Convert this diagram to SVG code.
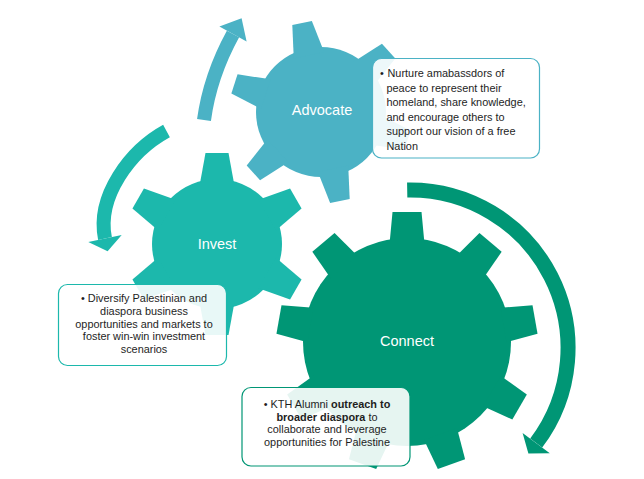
<svg xmlns="http://www.w3.org/2000/svg" width="644" height="479" viewBox="0 0 644 479">
<style>
.lbl{font-family:"Liberation Sans",Arial,sans-serif;font-size:14.5px;fill:#fff;text-anchor:middle}
.bt{font-family:"Liberation Sans",Arial,sans-serif;font-size:10.9px;fill:#1e1e1e}
.c{text-anchor:middle}
.b{font-weight:bold}
.box{fill:#fff;fill-opacity:0.9;stroke-width:1.2}
.band{fill:none;stroke-linecap:butt}
</style>
<defs>
<polygon id="tC" points="-17.5,-98 17.5,-98 14.5,-130 -14.5,-130"/>
<polygon id="tI" points="-17.5,-58 17.5,-58 11.5,-91 -11.5,-91"/>
<polygon id="tA" points="-15.5,-58 15.5,-58 10,-91 -10,-91"/>
</defs>
<rect width="644" height="479" fill="#fff"/>

<g id="gear-advocate" fill="#4BB2C5">
<g transform="translate(321,112)">
<circle r="65"/>
<use href="#tA" transform="rotate(-12)"/>
<use href="#tA" transform="rotate(48)"/>
<use href="#tA" transform="rotate(108)"/>
<use href="#tA" transform="rotate(168)"/>
<use href="#tA" transform="rotate(228)"/>
<use href="#tA" transform="rotate(288)"/>
</g>
<text class="lbl" x="322" y="115">Advocate</text>
</g>

<g id="gear-invest" fill="#1CB8AC">
<g transform="translate(217,244)">
<circle r="65"/>
<use href="#tI"/>
<use href="#tI" transform="rotate(60)"/>
<use href="#tI" transform="rotate(120)"/>
<use href="#tI" transform="rotate(180)"/>
<use href="#tI" transform="rotate(240)"/>
<use href="#tI" transform="rotate(300)"/>
</g>
<text class="lbl" x="217" y="249">Invest</text>
</g>

<g id="gear-connect" fill="#009675">
<g transform="translate(407,342)">
<circle r="104"/>
<use href="#tC"/>
<use href="#tC" transform="rotate(40)"/>
<use href="#tC" transform="rotate(80)"/>
<use href="#tC" transform="rotate(120)"/>
<use href="#tC" transform="rotate(160)"/>
<use href="#tC" transform="rotate(200)"/>
<use href="#tC" transform="rotate(240)"/>
<use href="#tC" transform="rotate(280)"/>
<use href="#tC" transform="rotate(320)"/>
</g>
<text class="lbl" x="407" y="346">Connect</text>
</g>

<g id="connectors">
<path class="band" d="M204,120 Q210,76 233,34" stroke="#4BB2C5" stroke-width="14"/>
<polygon points="246.6,41.4 219.4,26.6 241.6,18.2" fill="#4BB2C5"/>
<path class="band" d="M166.5,131 C130,151 96.4,196.4 105,238.5" stroke="#1CB8AC" stroke-width="14"/>
<polygon points="121.7,235.1 88.3,241.9 107.6,251.2" fill="#1CB8AC"/>
<path class="band" d="M407.2,190 A158,158 0 0 1 536.2,443.1" stroke="#009675" stroke-width="15"/>
<polygon points="549.8,453.3 522.6,433 528.4,453.5" fill="#009675"/>
</g>

<g id="box-advocate">
<rect class="box" x="372.5" y="58.5" width="167" height="99.5" rx="9" stroke="#4BB2C5"/>
<text class="bt" x="380" y="77">•</text>
<text class="bt" x="387.5" y="77">Nurture amabassdors of</text>
<text class="bt" x="386.5" y="91.6">peace to represent their</text>
<text class="bt" x="386.5" y="106.2">homeland, share knowledge,</text>
<text class="bt" x="386.5" y="120.8">and encourage others to</text>
<text class="bt" x="386.5" y="135.4">support our vision of a free</text>
<text class="bt" x="386.5" y="150">Nation</text>
</g>

<g id="box-invest">
<rect class="box" x="58.5" y="284.5" width="168" height="81" rx="9" stroke="#1CB8AC"/>
<text class="bt c" x="144" y="302">• Diversify Palestinian and</text>
<text class="bt c" x="144" y="314.8">diaspora business</text>
<text class="bt c" x="144" y="327.6">opportunities and markets to</text>
<text class="bt c" x="144" y="340.4">foster win-win investment</text>
<text class="bt c" x="144" y="353.2">scenarios</text>
</g>

<g id="box-connect">
<rect class="box" x="242" y="387.5" width="168" height="78.5" rx="9" stroke="#009675"/>
<text class="bt c" x="327" y="408">• KTH Alumni <tspan class="b">outreach to</tspan></text>
<text class="bt c" x="327" y="420.7"><tspan class="b">broader diaspora</tspan> to</text>
<text class="bt c" x="327" y="433.4">collaborate and leverage</text>
<text class="bt c" x="327" y="446.1">opportunities for Palestine</text>
</g>
</svg>
